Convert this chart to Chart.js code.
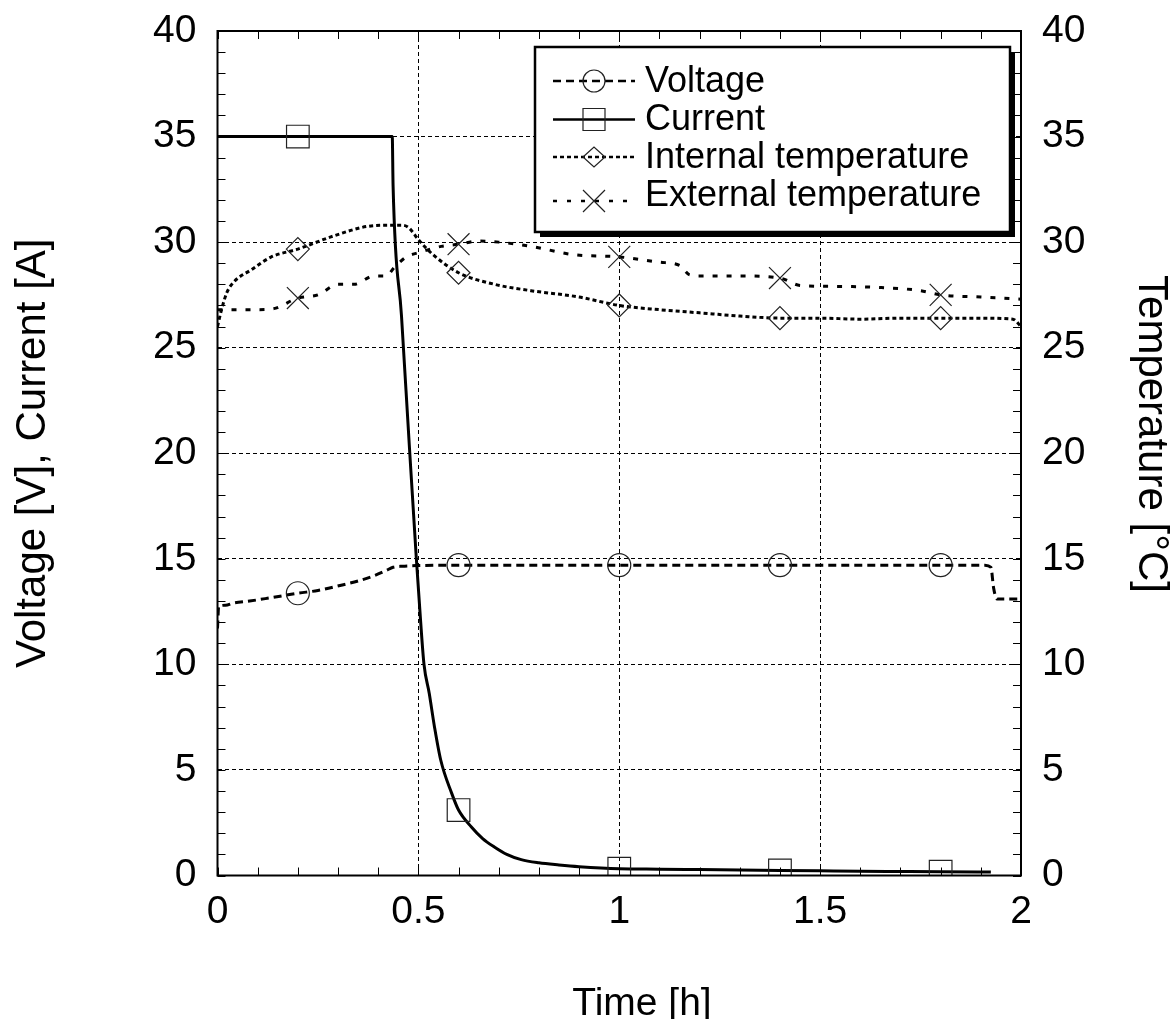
<!DOCTYPE html>
<html><head><meta charset="utf-8">
<script src="https://cdn.jsdelivr.net/npm/chart.js@4.4.0/dist/chart.umd.min.js"></script>
<style>html,body{margin:0;padding:0;background:#fff}#wrap{width:1172px;height:1019px;position:relative}</style>
</head><body><div id="wrap"><canvas id="c" width="1172" height="1019"></canvas></div>
<script>
// ---- data ----
const xTicks = [0, 0.5, 1, 1.5, 2];
const xTickLabels = ['0', '0.5', '1', '1.5', '2'];
const yTicks = [0, 5, 10, 15, 20, 25, 30, 35, 40];
const yTickLabels = ['0', '5', '10', '15', '20', '25', '30', '35', '40'];
const markerTimes = [0.2, 0.6, 1.0, 1.4, 1.8];

const voltageTime = [0, 0.003, 0.02, 0.039, 0.08, 0.124, 0.2, 0.25, 0.308, 0.35, 0.39, 0.42, 0.437, 0.46, 0.5, 0.6, 1.0, 1.4, 1.8, 1.91, 1.925, 1.932, 1.94, 2.0];
const voltageValues = [11.7, 12.75, 12.8, 12.9, 13.0, 13.13, 13.37, 13.5, 13.75, 13.95, 14.2, 14.45, 14.6, 14.65, 14.68, 14.7, 14.7, 14.7, 14.7, 14.7, 14.6, 13.6, 13.1, 13.1];

const currentTime = [0, 0.2, 0.435, 0.437, 0.458, 0.478, 0.495, 0.505, 0.514, 0.527, 0.54, 0.5556, 0.583, 0.6, 0.632, 0.66, 0.69, 0.72, 0.756, 0.8, 0.85, 0.9, 1.0, 1.1, 1.2, 1.3, 1.4, 1.5, 1.6, 1.7, 1.8, 1.925];
const currentValues = [35, 35, 35, 32.7, 26.5, 20.2, 15.0, 12.2, 10.0, 8.63, 7.05, 5.47, 3.89, 3.1, 2.3, 1.75, 1.34, 1.0, 0.75, 0.6, 0.5, 0.42, 0.32, 0.3, 0.28, 0.26, 0.24, 0.22, 0.2, 0.19, 0.18, 0.16];

const internalTime = [0, 0.01, 0.023, 0.04, 0.085, 0.134, 0.2, 0.29, 0.375, 0.43, 0.46, 0.475, 0.503, 0.54, 0.6, 0.69, 0.78, 0.9, 1.0, 1.1, 1.2, 1.3, 1.4, 1.5, 1.6, 1.7, 1.8, 1.9, 1.98, 2.0];
const internalValues = [26.0, 26.8, 27.6, 28.1, 28.7, 29.3, 29.67, 30.3, 30.75, 30.8, 30.8, 30.7, 30.05, 29.35, 28.55, 28.0, 27.7, 27.4, 27.0, 26.8, 26.65, 26.5, 26.4, 26.4, 26.35, 26.4, 26.4, 26.4, 26.35, 26.0];

const externalTime = [0, 0.1, 0.14, 0.2, 0.25, 0.3, 0.34, 0.39, 0.42, 0.44, 0.47, 0.5, 0.557, 0.6, 0.65, 0.7, 0.78, 0.889, 1.0, 1.1, 1.15, 1.175, 1.2, 1.3, 1.4, 1.45, 1.55, 1.652, 1.75, 1.8, 1.9, 2.0];
const externalValues = [26.8, 26.8, 26.85, 27.35, 27.5, 28.0, 28.0, 28.4, 28.4, 28.8, 29.3, 29.5, 29.8, 29.9, 30.05, 30.0, 29.8, 29.4, 29.3, 29.05, 28.9, 28.45, 28.4, 28.4, 28.3, 27.95, 27.9, 27.85, 27.7, 27.5, 27.4, 27.3];

const seriesNames = ['Voltage', 'Current', 'Internal temperature', 'External temperature'];
const xTitle = 'Time [h]';
const leftTitle = 'Voltage [V], Current [A]';
const rightTitle = 'Temperature [°C]';

// ---- helpers ----
const FONT = 'Liberation Sans, Arial, Helvetica, sans-serif';
const pts = (t, v) => t.map((x, i) => ({x: x, y: v[i]}));
const markerRadius = r => (ctx) => (ctx.raw && markerTimes.includes(ctx.raw.x)) ? r : 0;

function dataset(label, t, v, axis, dash, style, r) {
  return {
    label, data: pts(t, v), yAxisID: axis,
    borderColor: '#000', borderWidth: 3, borderDash: dash,
    cubicInterpolationMode: 'monotone', fill: false,
    pointStyle: style, pointRadius: markerRadius(r), pointHoverRadius: 0,
    pointBorderColor: '#222', pointBorderWidth: 1.2, pointBackgroundColor: 'rgba(0,0,0,0)'
  };
}

const framePlugin = {
  id: 'frame',
  afterDraw(chart) {
    const {ctx, chartArea: a, scales} = chart;
    ctx.save();
    ctx.strokeStyle = '#000';
    ctx.setLineDash([]);
    // minor ticks
    ctx.lineWidth = 1;
    const L = 8;
    ctx.beginPath();
    for (let i = 0; i <= 20; i++) {
      const x = Math.round(scales.x.getPixelForValue(i / 10)) + 0.5;
      ctx.moveTo(x, a.bottom); ctx.lineTo(x, a.bottom - L);
      ctx.moveTo(x, a.top); ctx.lineTo(x, a.top + L);
    }
    for (let i = 0; i <= 40; i++) {
      const y = Math.round(scales.y.getPixelForValue(i)) + 0.5;
      ctx.moveTo(a.left, y); ctx.lineTo(a.left + L, y);
      ctx.moveTo(a.right, y); ctx.lineTo(a.right - L, y);
    }
    ctx.stroke();
    // frame
    ctx.lineWidth = 2;
    ctx.strokeRect(a.left, a.top, a.right - a.left, a.bottom - a.top);

    // bottom axis title
    ctx.fillStyle = '#000';
    ctx.font = '39px ' + FONT;
    ctx.textAlign = 'center';
    ctx.textBaseline = 'alphabetic';
    ctx.fillText(xTitle, 642, 1015);

    // right axis title
    ctx.save();
    ctx.translate(1151, 434);
    ctx.rotate(Math.PI / 2);
    ctx.font = '42px ' + FONT;
    ctx.textAlign = 'center';
    ctx.textBaseline = 'middle';
    ctx.fillText(rightTitle, 0, 0);
    ctx.restore();

    // legend
    const bx = 535, by = 47, bw = 475, bh = 185;
    ctx.fillStyle = '#000';
    ctx.fillRect(bx + 5, by + 5, bw, bh);
    ctx.fillStyle = '#fff';
    ctx.fillRect(bx, by, bw, bh);
    ctx.lineWidth = 2.5;
    ctx.strokeRect(bx, by, bw, bh);

    const lineY = [81, 119.5, 157, 201];
    const textY = [82.5, 120.5, 157.8, 195.8];
    const dashes = [[8, 5], [], [4, 3], [4, 10]];
    const x0 = 553, x1 = 635, mx = 594;
    for (let i = 0; i < 4; i++) {
      ctx.strokeStyle = '#000';
      ctx.lineWidth = 2.5;
      ctx.setLineDash(dashes[i]);
      ctx.beginPath(); ctx.moveTo(x0, lineY[i]); ctx.lineTo(x1, lineY[i]); ctx.stroke();
      ctx.setLineDash([]);
      ctx.lineWidth = 1.2;
      ctx.strokeStyle = '#222';
      const y = lineY[i];
      ctx.beginPath();
      if (i === 0) { ctx.arc(mx, y, 11, 0, Math.PI * 2); }
      else if (i === 1) { ctx.rect(mx - 11, y - 11, 22, 22); }
      else if (i === 2) { ctx.moveTo(mx - 11, y); ctx.lineTo(mx, y - 10); ctx.lineTo(mx + 11, y); ctx.lineTo(mx, y + 10); ctx.closePath(); }
      else { ctx.moveTo(mx - 11, y - 11); ctx.lineTo(mx + 11, y + 11); ctx.moveTo(mx + 11, y - 11); ctx.lineTo(mx - 11, y + 11); }
      ctx.stroke();
      ctx.fillStyle = '#000';
      ctx.font = '36px ' + FONT;
      ctx.textAlign = 'left';
      ctx.textBaseline = 'middle';
      ctx.fillText(seriesNames[i], 645, textY[i]);
    }
    ctx.restore();
  }
};

const tickFont = {family: FONT, size: 39};
const zeroPad = s => { s.paddingTop = 0; s.paddingBottom = 0; s.paddingLeft = 0; s.paddingRight = 0; };

new Chart(document.getElementById('c'), {
  type: 'line',
  data: {
    datasets: [
      dataset(seriesNames[0], voltageTime, voltageValues, 'y', [8, 5], 'circle', 11.5),
      dataset(seriesNames[1], currentTime, currentValues, 'y', [], 'rect', 16),
      dataset(seriesNames[2], internalTime, internalValues, 'y2', [4, 3], 'rectRot', 11.5),
      dataset(seriesNames[3], externalTime, externalValues, 'y2', [5, 9], 'crossRot', 15.5)
    ]
  },
  options: {
    responsive: false, devicePixelRatio: 1, animation: false, events: [],
    layout: {autoPadding: false, padding: {top: 31, left: 0, right: 0, bottom: 0}},
    plugins: {legend: {display: false}, tooltip: {enabled: false}},
    scales: {
      x: {
        type: 'linear', position: 'bottom', min: 0, max: 2,
        afterBuildTicks: s => { s.ticks = xTicks.map(v => ({value: v})); },
        afterFit: s => { s.height = 143.5; zeroPad(s); },
        ticks: {font: tickFont, color: '#000', padding: 13, maxRotation: 0, autoSkip: false,
          callback: v => xTickLabels[xTicks.indexOf(v)]},
        grid: {color: '#000', lineWidth: 1, drawTicks: false},
        border: {display: false, dash: [4, 3]},
        title: {display: false}
      },
      y: {
        type: 'linear', position: 'left', min: 0, max: 40,
        afterBuildTicks: s => { s.ticks = yTicks.map(v => ({value: v})); },
        afterFit: s => { s.width = 217.5; zeroPad(s); },
        ticks: {font: tickFont, color: '#000', padding: 21, autoSkip: false,
          callback: v => yTickLabels[yTicks.indexOf(v)]},
        grid: {color: '#000', lineWidth: 1, drawTicks: false},
        border: {display: false, dash: [4, 3]},
        title: {display: true, text: leftTitle, font: {family: FONT, size: 42, lineHeight: 0.9}, color: '#000', padding: {top: 14.5, bottom: 0}}
      },
      y2: {
        type: 'linear', position: 'right', min: 0, max: 40,
        afterBuildTicks: s => { s.ticks = yTicks.map(v => ({value: v})); },
        afterFit: s => { s.width = 151; zeroPad(s); },
        ticks: {font: tickFont, color: '#000', padding: 21, autoSkip: false,
          callback: v => yTickLabels[yTicks.indexOf(v)]},
        grid: {display: false, drawTicks: false},
        border: {display: false},
        title: {display: false}
      }
    }
  },
  plugins: [framePlugin]
});
</script>
</body></html>
